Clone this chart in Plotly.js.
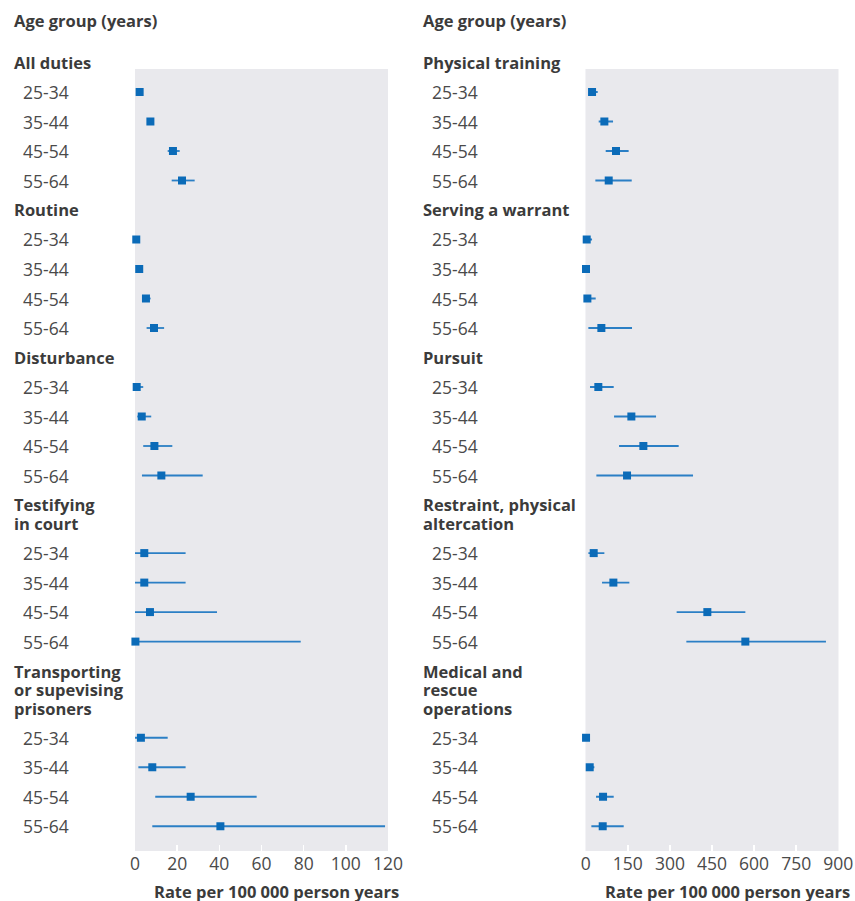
<!DOCTYPE html>
<html>
<head>
<meta charset="utf-8">
<script src="https://cdn.plot.ly/plotly-3.0.1.min.js"></script>
<style>html,body{margin:0;padding:0;background:#fff;}#chart{width:855px;height:901px;}</style>
</head>
<body>
<div id="chart"></div>
<script>
// ---- DATA ----
const ageGroups = ['25-34', '35-44', '45-54', '55-64'];

const leftHeaders = [['All duties'], ['Routine'], ['Disturbance'], ['Testifying', 'in court'], ['Transporting', 'or supevising', 'prisoners']];
const leftRate = [
  [2.2, 7.3, 18.0, 22.3],
  [0.6, 2.0, 5.2, 9.0],
  [0.8, 3.2, 9.2, 12.5],
  [4.4, 4.4, 7.1, 0.2],
  [2.8, 8.2, 26.4, 40.5]
];
const leftLow = [
  [1.5, 6.0, 15.5, 17.4],
  [0.3, 1.4, 3.9, 5.5],
  [0.0, 1.1, 3.9, 3.3],
  [0.0, 0.0, 0.0, 0.0],
  [0.0, 1.6, 9.6, 8.2]
];
const leftHigh = [
  [3.0, 8.7, 21.2, 28.3],
  [1.0, 2.8, 7.4, 13.8],
  [3.9, 7.7, 17.7, 32.1],
  [24.0, 24.0, 38.9, 78.6],
  [15.5, 24.0, 57.7, 118.6]
];

const rightHeaders = [['Physical training'], ['Serving a warrant'], ['Pursuit'], ['Restraint, physical', 'altercation'], ['Medical and', 'rescue', 'operations']];
const rightRate = [
  [22.6, 66.5, 108, 82],
  [3.6, 1.0, 6.0, 55.8],
  [45, 162.7, 205.4, 147.3],
  [28.5, 98.6, 433.4, 568.8],
  [1.2, 14.3, 61.8, 60.6]
];
const rightLow = [
  [11.9, 46.3, 71.3, 34.4],
  [0.0, 0.0, 0.0, 9.5],
  [15.4, 101, 118.8, 38],
  [9.5, 58.2, 324, 358.6],
  [0.2, 3.6, 36.8, 20.2]
];
const rightHigh = [
  [42.8, 97.4, 153, 164],
  [22.6, 14.0, 35.6, 165],
  [99.8, 250.6, 331.3, 382.4],
  [66.5, 155.6, 568.8, 856],
  [5.0, 30.9, 99.8, 135.4]
];

const leftTicks = [0, 20, 40, 60, 80, 100, 120];
const rightTicks = [0, 150, 300, 450, 600, 750, 900];
const axisTitle = 'Rate per 100 000 person years';
const topTitle = 'Age group (years)';

// ---- GEOMETRY ----
const W = 855, H = 901;
const plotTopPx = 69, plotBotPx = 851;
const rowPx = 29.5;
const firstRowPx = 92;
const yTop = (plotTopPx - firstRowPx) / rowPx;
const yBot = (plotBotPx - firstRowPx) / rowPx;
const headerLineStep = 0.63;

function layoutRows(headers) {
  let pos = -1;
  const headerPos = [], rowPos = [];
  headers.forEach(lines => {
    const hp = [];
    lines.forEach((l, i) => hp.push(pos + i * headerLineStep));
    headerPos.push(hp);
    let r = hp[hp.length - 1] + 1;
    const rp = [];
    ageGroups.forEach(() => { rp.push(r); r += 1; });
    rowPos.push(rp);
    pos = r;
  });
  return {headerPos, rowPos};
}
function toPaperY(u) { return 1 - (u - yTop) / (yBot - yTop); }
function pxToPaperY(px) { return (plotBotPx - px) / (plotBotPx - plotTopPx); }

const dotColor = '#0b6bb8';
const barColor = '#2b7fc5';
const textColor = '#3b3b3b';
const labelColor = '#4a4a4a';
const FONT = '"Open Sans", sans-serif';

const traces = [];
const annotations = [];

function addPanel(headers, rate, low, high, xa, ya, headerX, labelX) {
  const {headerPos, rowPos} = layoutRows(headers);
  const xs = [], ys = [], ep = [], em = [];
  headers.forEach((lines, g) => {
    ageGroups.forEach((a, i) => {
      xs.push(rate[g][i]);
      ys.push(rowPos[g][i]);
      ep.push(high[g][i] - rate[g][i]);
      em.push(rate[g][i] - low[g][i]);
      annotations.push({xref: 'paper', yref: 'paper', x: labelX / W, y: toPaperY(rowPos[g][i]),
        xanchor: 'left', yanchor: 'middle', showarrow: false, text: a,
        font: {family: FONT, size: 17.5, color: labelColor}});
    });
    lines.forEach((l, i) => {
      annotations.push({xref: 'paper', yref: 'paper', x: headerX / W, y: toPaperY(headerPos[g][i]),
        xanchor: 'left', yanchor: 'middle', showarrow: false, text: '<b>' + l + '</b>',
        font: {family: FONT, size: 16.5, color: textColor}});
    });
  });
  traces.push({
    type: 'scatter', mode: 'markers', x: xs, y: ys, xaxis: xa, yaxis: ya,
    cliponaxis: false, hoverinfo: 'skip',
    marker: {symbol: 'square', size: 8, color: dotColor},
    error_x: {type: 'data', symmetric: false, array: ep, arrayminus: em, width: 0, thickness: 1.8, color: barColor}
  });
}

addPanel(leftHeaders, leftRate, leftLow, leftHigh, 'x', 'y', 12, 21);
addPanel(rightHeaders, rightRate, rightLow, rightHigh, 'x2', 'y2', 421, 430);

[12, 421].forEach(px => annotations.push({xref: 'paper', yref: 'paper', x: px / W, y: pxToPaperY(20),
  xanchor: 'left', yanchor: 'middle', showarrow: false, text: '<b>' + topTitle + '</b>',
  font: {family: FONT, size: 16.5, color: textColor}}));
[152, 603].forEach(px => annotations.push({xref: 'paper', yref: 'paper', x: px / W, y: pxToPaperY(891),
  xanchor: 'left', yanchor: 'middle', showarrow: false, text: '<b>' + axisTitle + '</b>',
  font: {family: FONT, size: 16.5, color: textColor}}));

function xAxis(domain, ticks, range) {
  return {domain: domain, range: range, tickvals: ticks, ticktext: ticks.map(String),
    ticks: 'inside', ticklen: 6, tickwidth: 1.5, tickcolor: '#ffffff',
    showgrid: false, zeroline: false, showline: false, fixedrange: true,
    tickfont: {family: FONT, size: 17.5, color: labelColor}};
}
function yAxis(anchor) {
  return {domain: [0, 1], range: [yBot, yTop], anchor: anchor, showticklabels: false,
    ticks: '', showgrid: false, zeroline: false, showline: false, fixedrange: true};
}

const layout = {
  width: W, height: H,
  margin: {l: 0, r: 0, t: plotTopPx, b: H - plotBotPx, pad: 0},
  paper_bgcolor: '#ffffff', plot_bgcolor: '#e9e9ed',
  showlegend: false,
  xaxis: xAxis([135 / W, 388 / W], leftTicks, [0, 120]),
  xaxis2: xAxis([585.7 / W, 838.3 / W], rightTicks, [0, 900]),
  yaxis: yAxis('x'),
  yaxis2: yAxis('x2'),
  annotations: annotations,
  shapes: [
    {type: 'rect', xref: 'x domain', yref: 'y domain', x0: 0, x1: 1, y0: 0, y1: 1, fillcolor: '#e9e9ed', line: {width: 0}, layer: 'below'},
    {type: 'rect', xref: 'x2 domain', yref: 'y2 domain', x0: 0, x1: 1, y0: 0, y1: 1, fillcolor: '#e9e9ed', line: {width: 0}, layer: 'below'}
  ]
};

Plotly.newPlot('chart', traces, layout, {displayModeBar: false, staticPlot: true});
</script>
</body>
</html>
